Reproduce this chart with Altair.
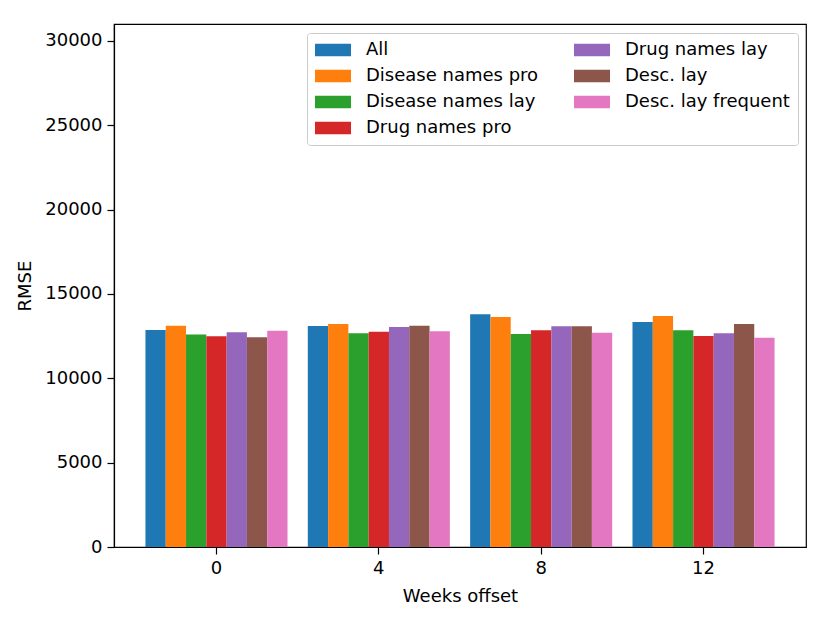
import altair as alt
import pandas as pd

weeks = ["0", "4", "8", "12"]
series = ["All", "Disease names pro", "Disease names lay", "Drug names pro",
          "Drug names lay", "Desc. lay", "Desc. lay frequent"]
colors = ["#1f77b4", "#ff7f0e", "#2ca02c", "#d62728", "#9467bd", "#8c564b", "#e377c2"]

rmse_all = [12860, 13100, 13790, 13340]
rmse_disease_pro = [13120, 13220, 13630, 13690]
rmse_disease_lay = [12590, 12670, 12630, 12850]
rmse_drug_pro = [12490, 12760, 12850, 12510]
rmse_drug_lay = [12730, 13040, 13080, 12670]
rmse_desc_lay = [12430, 13120, 13080, 13220]
rmse_desc_freq = [12820, 12790, 12700, 12410]

values = [rmse_all, rmse_disease_pro, rmse_disease_lay, rmse_drug_pro,
          rmse_drug_lay, rmse_desc_lay, rmse_desc_freq]

rows = []
for s, vals in zip(series, values):
    for w, v in zip(weeks, vals):
        rows.append({"week": w, "series": s, "rmse": v})
df = pd.DataFrame(rows)

FONT = "DejaVu Sans"

chart = alt.Chart(df).mark_bar().encode(
    x=alt.X("week:O", sort=weeks,
            scale=alt.Scale(paddingInner=0.125, paddingOuter=0.19375),
            axis=alt.Axis(title="Weeks offset", labelAngle=0, tickSize=7,
                          labelPadding=5, titlePadding=10)),
    xOffset=alt.XOffset("series:N", sort=series,
                        scale=alt.Scale(paddingInner=0, paddingOuter=0)),
    y=alt.Y("rmse:Q", scale=alt.Scale(domain=[0, 31000], nice=False),
            axis=alt.Axis(title="RMSE", values=[0, 5000, 10000, 15000, 20000, 25000, 30000],
                          format="d", grid=False, tickSize=7, labelPadding=5,
                          titlePadding=10)),
    color=alt.Color("series:N",
                    scale=alt.Scale(domain=series, range=colors),
                    legend=alt.Legend(
                        title=None, orient="none", legendX=193, legendY=9,
                        columns=2, direction="vertical",
                        symbolType="M-2,-0.7H2V0.7H-2Z", symbolSize=324,
                        symbolStrokeWidth=0, symbolOpacity=1, symbolOffset=9,
                        labelFontSize=18, labelFont=FONT, labelColor="black",
                        labelOffset=24, columnPadding=35, rowPadding=8,
                        padding=8, strokeColor="#cccccc", fillColor="rgba(255,255,255,0.8)",
                        cornerRadius=3, labelLimit=400)),
).properties(
    width=692, height=523,
    autosize=alt.AutoSizeParams(type="none"),
    padding={"left": 106, "top": 16, "right": 16, "bottom": 60},
).configure_view(
    stroke="black", strokeWidth=1.2
).configure_axis(
    labelFont=FONT, titleFont=FONT, labelFontSize=18, titleFontSize=18,
    labelColor="black", titleColor="black", titleFontWeight="normal",
    domainColor="black", tickColor="black", domainWidth=1.2, tickWidth=1.2
)

chart.save("out.html", embed_options={"renderer": "svg", "actions": False})
